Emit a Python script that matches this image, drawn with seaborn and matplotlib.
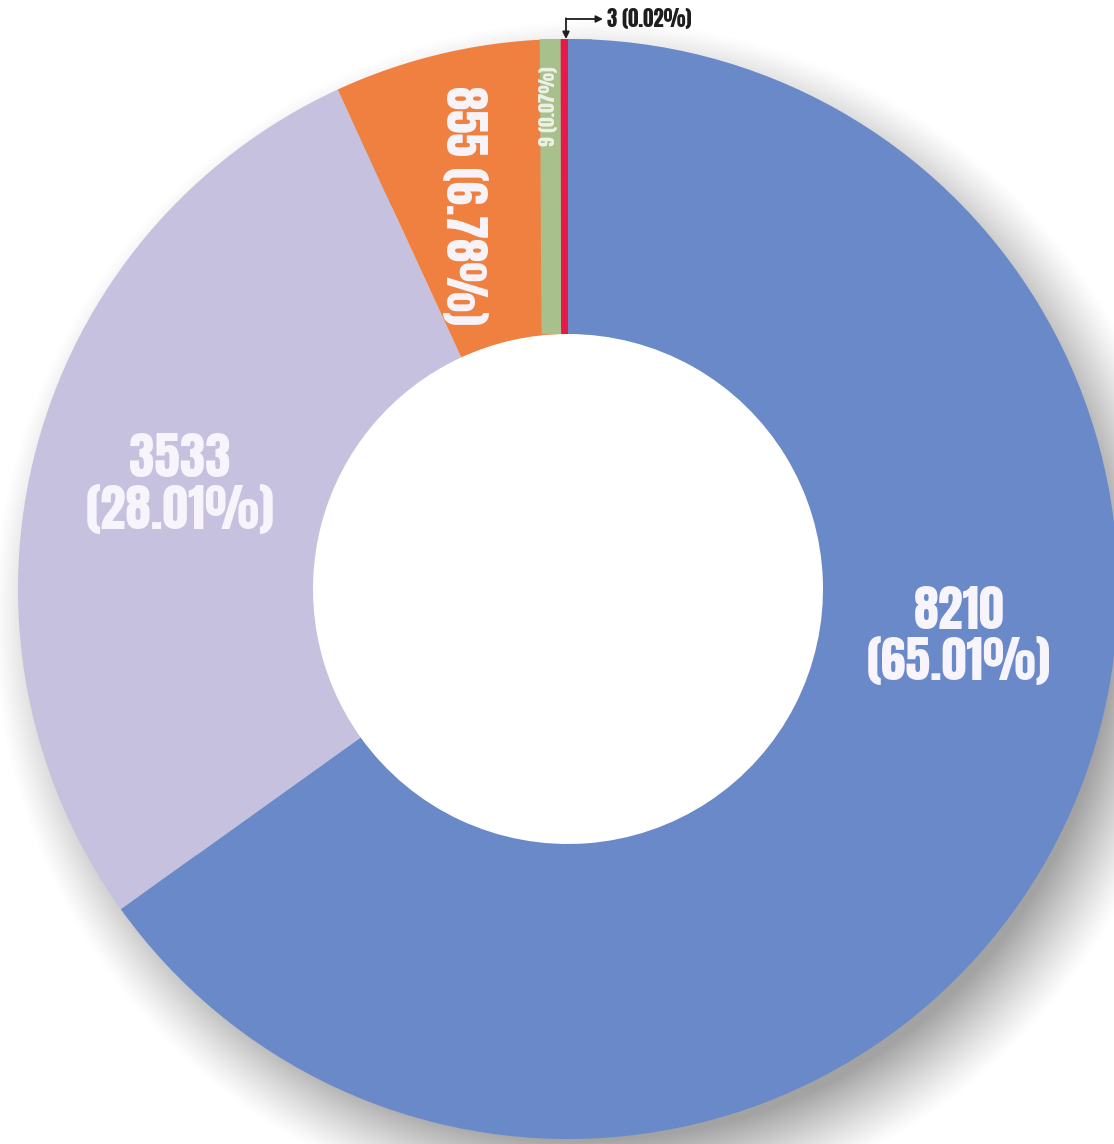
import numpy as np
import matplotlib
matplotlib.use("Agg")
import matplotlib.pyplot as plt
import seaborn as sns

# ---- data ----
values = [8210, 3533, 855, 9, 3]
labels = ["8210\n(65.01%)", "3533\n(28.01%)", "855 (6.78%)", "9 (0.07%)", "3 (0.02%)"]
colors = ["#6a89c8", "#c5c1df", "#f08040", "#a8c08c", "#e8194a"]

sns.set_theme(style="white")
FAM = ['Anton', 'Roboto Condensed', 'DejaVu Sans']
plt.rcParams['font.family'] = FAM

W, H = 1114, 1144
DPI = 100
fig = plt.figure(figsize=(W / DPI, H / DPI), dpi=DPI)
ax = fig.add_axes([0, 0, 1, 1])

cx, cy = 568, H - 589
R = 550
r_in = 255

# soft drop shadow toward bottom-right
yy, xx = np.mgrid[0:H, 0:W]
sx, sy = cx + 24, (H - cy) + 30
d = np.hypot(xx - sx, yy - sy)
alpha = np.clip((R + 50 - d) / 80, 0, 1) ** 1.2 * 0.62
alpha[d < R - 90] = 0
rgba = np.zeros((H, W, 4))
rgba[..., :3] = 0.42
rgba[..., 3] = alpha
ax.imshow(rgba, extent=(0, W, 0, H), origin='upper', zorder=0, interpolation='bilinear')

wedges, _ = ax.pie(values, colors=colors, startangle=90, counterclock=False,
                   center=(cx, cy), radius=R,
                   wedgeprops=dict(width=R - r_in, linewidth=0))

# the two tiny slices are drawn with a thick stroke of their own colour so they stay visible
pt2px = DPI / 72.0
z = {0: 6, 1: 2, 2: 2, 3: 3, 4: 4}
for i, w in enumerate(wedges):
    w.set_zorder(z[i])
for i, lw_px in ((3, 50), (4, 13)):
    w = wedges[i]
    w.set_edgecolor(colors[i])
    w.set_linewidth(lw_px / pt2px)
    w.set_joinstyle('miter')
    w.set_radius(R - lw_px / 2)
    w.set_width(R - r_in - lw_px)

ax.set_xlim(0, W)
ax.set_ylim(0, H)
ax.set_aspect('equal')
ax.axis('off')

txt = "#f7f4fb"
ax.text(959, H - 636, labels[0], ha='center', va='center', color=txt,
        fontsize=36, linespacing=1.05, zorder=8)
ax.text(180, H - 484, labels[1], ha='center', va='center', color=txt,
        fontsize=37, linespacing=1.05, zorder=8)
ax.text(464, H - 205, labels[2], ha='center', va='center', color=txt,
        fontsize=34, rotation=-90, zorder=8)
ax.text(549, H - 106, labels[3], ha='center', va='center', color="#eef2e6",
        fontsize=14, rotation=90, zorder=8)
ax.text(607, H - 19, labels[4], ha='left', va='center', color="#1e1e1e",
        fontsize=15, zorder=8)

# bracket arrow pointing at the smallest slice
ax.annotate("", xy=(603, H - 19), xytext=(566, H - 19),
            arrowprops=dict(arrowstyle='-|>', color='#1e1e1e', lw=1.3,
                            mutation_scale=10, shrinkA=0, shrinkB=0), zorder=8)
ax.annotate("", xy=(566, H - 39), xytext=(566, H - 18.3),
            arrowprops=dict(arrowstyle='-|>', color='#1e1e1e', lw=1.3,
                            mutation_scale=10, shrinkA=0, shrinkB=0), zorder=8)

fig.savefig("out.png", dpi=DPI, facecolor='white')
